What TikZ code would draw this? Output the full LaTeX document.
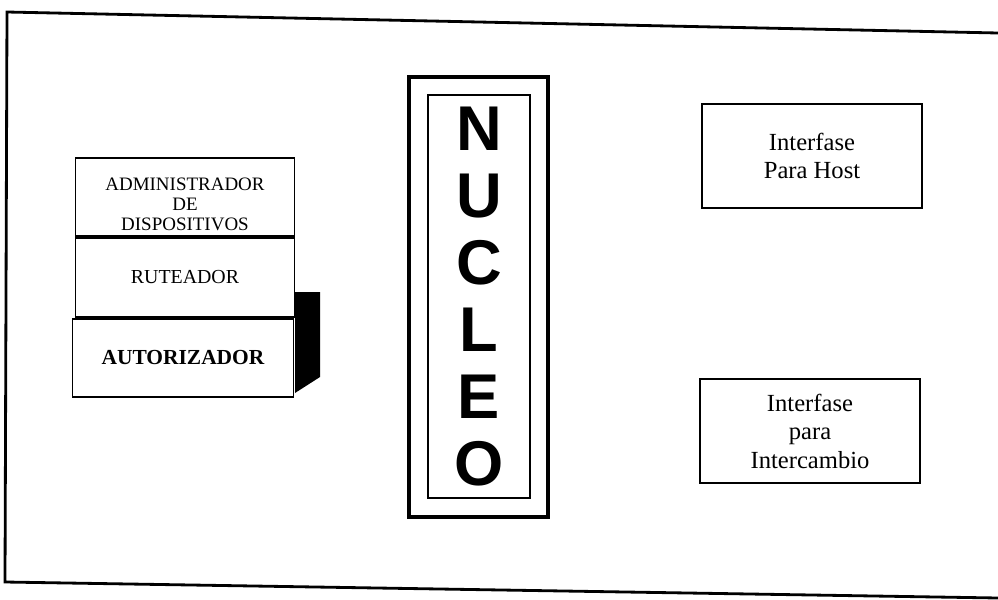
\documentclass[tikz,border=0pt]{standalone}
\usepackage{fontspec}
\setmainfont{Liberation Serif}
\newfontfamily\nucleofont{Liberation Sans}
\usetikzlibrary{positioning,calc}

\begin{document}
\begin{tikzpicture}[x=0.02cm, y=-0.02cm, node distance=0pt,
	capa/.style={draw, line width=1.1pt, fill=white, minimum width=4.38cm, minimum height=1.57cm, align=center, inner sep=2pt, font=\fontsize{10.8}{11.4}\selectfont},
	interfase/.style={draw, line width=1.1pt, minimum width=4.39cm, minimum height=2.08cm, align=center, font=\fontsize{14}{16.2}\selectfont}]
	\useasboundingbox (0,0) rectangle (998,599);

	% Marco
	\draw [line width=1.6pt] (998,33) -- (7,12) -- (5,582) -- (998,598);

	% Pila {administrador, ruteador, autorizador}
	\fill (295,292) -- (320,292) -- (320,377) -- (295,393) -- cycle;
	\node [capa]	(admin) at (185,197)	{\rule{0pt}{15pt}ADMINISTRADOR\\DE\\DISPOSITIVOS};
	\node [capa, font=\fontsize{11.3}{13}\selectfont]	(ruteador) [below=of admin]	{RUTEADOR};
	\node [capa, minimum width=4.42cm, font=\fontsize{12.2}{13}\selectfont\bfseries]	(autorizador) [below=of ruteador, xshift=-0.04cm]	{AUTORIZADOR};

	% Nucleo
	\node [draw, line width=1.1pt, minimum width=2.04cm, minimum height=8.06cm, align=center, font=\nucleofont\bfseries\fontsize{36}{38.2}\selectfont]
		(nucleo) at (479,296.5) {N\\U\\C\\L\\E\\O};
	\draw [line width=2pt] ($(nucleo.north west)+(-18,-17)$) rectangle ($(nucleo.south east)+(17,18)$);

	% Interfases
	\node [interfase]	(host) at (812,156)	{Interfase\\Para Host};
	\node [interfase]	(intercambio) at (810,431)	{Interfase\\para\\Intercambio};
\end{tikzpicture}
\end{document}
